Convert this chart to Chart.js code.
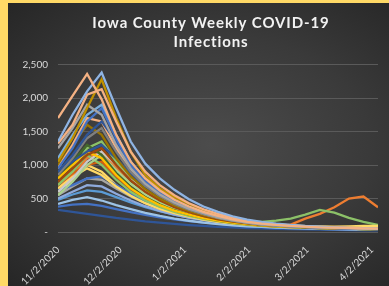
<!DOCTYPE html>
<html>
<head>
<meta charset="utf-8">
<script src="https://cdn.jsdelivr.net/npm/chart.js@4.4.1/dist/chart.umd.min.js"></script>
<style>
  html, body { margin: 0; padding: 0; overflow: hidden; width: 389px; height: 286px; background: #ffd966; }
  #box {
    position: absolute; left: 8px; top: 3px; width: 406px; height: 283px; overflow: hidden;
    background: radial-gradient(ellipse at 50% 50%, #4c4c4c 0%, #3a3a3a 55%, #262626 100%);
  }
</style>
</head>
<body>
<div id="box"><canvas id="graph" width="406" height="283"></canvas></div>
<script>
// semaines (dates des points)
const weeks = ['11/2/2020','11/9/2020','11/16/2020','11/23/2020','11/30/2020','12/7/2020','12/14/2020',
  '12/21/2020','12/28/2020','1/4/2021','1/11/2021','1/18/2021','1/25/2021','2/1/2021','2/8/2021',
  '2/15/2021','2/22/2021','3/1/2021','3/8/2021','3/15/2021','3/22/2021','3/29/2021','4/5/2021'];
const tickLabels = ['11/2/2020','12/2/2020','1/2/2021','2/2/2021','3/2/2021','4/2/2021'];
const yTicks = [0, 500, 1000, 1500, 2000, 2500];

// une série par comté
const c01 = [1700, 2030, 2360, 1980, 1450, 1050, 800, 620, 480, 380, 300, 240, 190, 150, 125, 105, 90, 80, 70, 65, 60, 55, 50];
const c02 = [1350, 1750, 2100, 2380, 1850, 1350, 1020, 800, 630, 490, 380, 300, 235, 185, 150, 125, 105, 90, 80, 70, 62, 56, 50];
const c03 = [1320, 1600, 2050, 2130, 1650, 1200, 900, 700, 550, 430, 340, 270, 215, 170, 140, 115, 100, 88, 78, 70, 62, 56, 50];
const c04 = [1050, 1400, 1850, 2280, 1700, 1200, 850, 650, 520, 420, 330, 260, 205, 165, 135, 115, 100, 88, 78, 70, 62, 56, 50];
const c05 = [1250, 1550, 1900, 1750, 1300, 950, 720, 560, 440, 350, 280, 220, 175, 140, 115, 100, 88, 78, 70, 63, 57, 52, 48];
const c06 = [950, 1250, 1650, 1850, 1400, 1000, 760, 590, 460, 365, 290, 230, 185, 150, 122, 102, 88, 78, 70, 62, 56, 50, 45];
const c07 = [900, 1150, 1450, 1650, 1350, 1000, 780, 610, 480, 380, 300, 240, 190, 152, 124, 104, 90, 80, 70, 63, 56, 50, 45];
const c08 = [850, 1100, 1400, 1550, 1200, 900, 690, 540, 420, 335, 265, 210, 168, 135, 112, 96, 84, 74, 66, 59, 53, 48, 44];
const c09 = [1100, 1450, 1750, 1900, 1450, 1050, 780, 600, 470, 370, 290, 230, 184, 148, 121, 101, 87, 77, 69, 62, 56, 51, 47];
const c10 = [950, 1300, 1700, 1650, 1250, 920, 700, 545, 430, 340, 270, 215, 172, 140, 115, 98, 85, 75, 67, 60, 55, 50, 46];
const c11 = [1000, 1300, 1600, 1450, 1100, 830, 640, 500, 395, 315, 252, 203, 165, 135, 112, 96, 84, 74, 66, 60, 54, 49, 45];
const c12 = [900, 1050, 1200, 1300, 1100, 870, 680, 530, 420, 335, 268, 216, 175, 143, 118, 99, 85, 74, 65, 58, 52, 47, 43];
const c13 = [750, 950, 1150, 1250, 1000, 770, 600, 470, 370, 295, 235, 190, 155, 128, 108, 94, 83, 74, 66, 60, 54, 49, 45];
const c14 = [800, 1000, 1200, 1100, 850, 650, 510, 400, 320, 258, 208, 170, 140, 116, 98, 86, 76, 68, 61, 56, 51, 47, 43];
const c15 = [800, 1050, 1300, 1150, 880, 670, 520, 410, 325, 260, 210, 170, 140, 116, 98, 85, 75, 67, 60, 54, 49, 45, 41];
const c16 = [600, 800, 1050, 1200, 1000, 780, 610, 480, 380, 300, 240, 193, 157, 128, 106, 90, 78, 69, 62, 56, 51, 47, 43];
const c17 = [550, 750, 1000, 1150, 920, 720, 560, 440, 350, 280, 225, 180, 148, 122, 103, 90, 80, 72, 65, 59, 54, 49, 45];
const c18 = [700, 900, 1150, 1000, 780, 600, 470, 375, 300, 242, 197, 161, 133, 111, 95, 83, 74, 66, 60, 54, 49, 45, 42];
const c19 = [700, 880, 1000, 1050, 830, 640, 500, 395, 315, 253, 204, 166, 137, 114, 97, 84, 74, 66, 59, 54, 49, 45, 41];
const c20 = [650, 820, 950, 850, 680, 540, 430, 345, 280, 228, 186, 153, 127, 107, 92, 80, 71, 64, 58, 53, 48, 44, 40];
const c21 = [620, 700, 800, 830, 700, 570, 460, 375, 305, 250, 205, 168, 139, 116, 98, 84, 73, 64, 57, 51, 46, 42, 38];
const c22 = [550, 680, 800, 780, 650, 530, 430, 350, 287, 236, 194, 160, 133, 111, 94, 81, 71, 63, 56, 51, 46, 42, 38];
const c23 = [500, 600, 700, 680, 570, 470, 385, 316, 260, 214, 177, 147, 122, 103, 88, 76, 66, 58, 52, 47, 43, 39, 35];
const c24 = [480, 560, 620, 600, 520, 440, 370, 310, 260, 215, 180, 150, 126, 106, 90, 78, 68, 60, 54, 49, 44, 40, 37];
const c25 = [420, 480, 520, 470, 400, 340, 285, 240, 200, 168, 140, 118, 100, 86, 75, 66, 59, 53, 48, 44, 40, 37, 34];
const c26 = [380, 410, 420, 390, 340, 295, 255, 220, 190, 163, 140, 120, 103, 89, 77, 67, 59, 52, 46, 42, 38, 35, 32];
const c27 = [330, 300, 270, 240, 210, 185, 160, 140, 120, 104, 90, 78, 68, 60, 53, 47, 42, 38, 34, 31, 28, 26, 24];
const c28 = [600, 780, 1000, 900, 700, 560, 450, 370, 300, 245, 200, 165, 140, 120, 105, 95, 88, 85, 82, 80, 85, 90, 90];
const c29 = [700, 950, 1250, 1350, 1050, 800, 610, 480, 380, 300, 240, 195, 160, 150, 150, 170, 200, 260, 330, 290, 210, 150, 105];
const c30 = [650, 850, 1100, 1200, 950, 720, 560, 440, 350, 280, 225, 180, 145, 120, 105, 100, 110, 200, 270, 370, 500, 530, 370];

const series = [c01, c02, c03, c04, c05, c06, c07, c08, c09, c10, c11, c12, c13, c14, c15,
  c16, c17, c18, c19, c20, c21, c22, c23, c24, c25, c26, c27, c28, c29, c30];
const couleurs = ['#f4b183', '#8fb4e3', '#f4b183', '#bf9000', '#a5a5a5', '#4472c4', '#2f5597', '#7f7f7f',
  '#7cafdd', '#f4b183', '#997300', '#2f5597', '#9e480e', '#ffc000', '#43682b', '#c9c9c9', '#a9d18e',
  '#8cc168', '#d26012', '#ffd966', '#4472c4', '#a5a5a5', '#8faadc', '#5b9bd5', '#9dc3e6', '#4472c4',
  '#2f5597', '#ffd966', '#8cc168', '#ed7d31'];

function jour(s) {
  const p = s.split('/');
  return Date.UTC(+p[2], +p[0] - 1, +p[1]) / 86400000;
}
const j0 = jour(weeks[0]);
const xs = weeks.map(w => jour(w) - j0);
const tickDays = tickLabels.map(t => jour(t) - j0);

const datasets = series.map((vals, i) => ({
  label: 'Comté ' + (i + 1),
  data: vals.map((v, k) => ({ x: xs[k], y: v })),
  borderColor: couleurs[i],
  borderWidth: 2.3,
  pointRadius: 0,
  fill: false,
  tension: 0
}));

// décale le titre (centré sur le graphique complet d'origine) et espace les lettres
const titrePlugin = {
  id: 'titreExcel',
  afterLayout(chart) {
    const t = chart.titleBlock;
    if (!t) return;
    t.left += 11;
    t.right += 11;
    if (!t._patched) {
      const orig = t.draw.bind(t);
      t.draw = function () {
        const c = this.ctx;
        c.save();
        c.letterSpacing = '0.9px';
        orig();
        c.restore();
      };
      t._patched = true;
    }
  }
};

const ctx = document.getElementById('graph').getContext('2d');
new Chart(ctx, {
  type: 'line',
  data: { datasets: datasets },
  plugins: [titrePlugin],
  options: {
    responsive: false,
    animation: false,
    layout: { padding: { left: 14, right: 36, top: 0, bottom: 0 } },
    plugins: {
      legend: { display: false },
      tooltip: { enabled: false },
      title: {
        display: true,
        text: ['Iowa County Weekly COVID-19', 'Infections'],
        color: '#f2f2f2',
        font: { family: 'Lato', size: 15, weight: 'bold', lineHeight: 1.25 },
        padding: { top: 11, bottom: 13 }
      }
    },
    scales: {
      x: {
        type: 'linear',
        min: 0,
        max: xs[xs.length - 1],
        grid: { display: false },
        border: { display: false },
        afterBuildTicks: s => { s.ticks = tickDays.map(v => ({ value: v })); },
        afterFit: s => { s.paddingLeft = 0; s.paddingRight = 0; s.height = 54; },
        ticks: {
          autoSkip: false,
          minRotation: 45,
          maxRotation: 45,
          padding: 4,
          color: '#d9d9d9',
          font: { family: 'Lato', size: 10 },
          callback: v => tickLabels[tickDays.indexOf(v)]
        }
      },
      y: {
        min: 0,
        max: 2500,
        grid: { color: '#5a5a5a', lineWidth: 1, drawTicks: false },
        border: { display: false },
        afterBuildTicks: s => { s.ticks = yTicks.map(v => ({ value: v })); },
        afterFit: s => { s.width = 36; },
        ticks: {
          color: '#d9d9d9',
          padding: 10,
          font: { family: 'Lato', size: 10 },
          callback: v => v === 0 ? '-' : v.toLocaleString('en-US')
        }
      }
    }
  }
});
</script>
</body>
</html>
